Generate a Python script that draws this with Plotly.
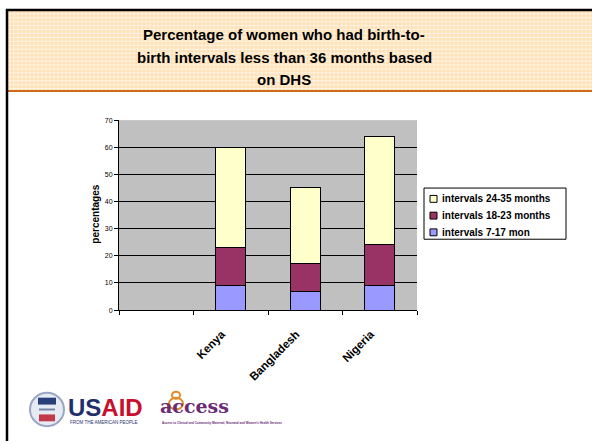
import plotly.graph_objects as go

W, H = 592, 444

categories = [" ", "Kenya", "Bangladesh", "Nigeria"]
series_names = ["intervals 7-17 mon", "intervals 18-23 months", "intervals 24-35 months"]
interval_7_17 = [None, 9, 7, 9]
interval_18_23 = [None, 14, 10, 15]
interval_24_35 = [None, 37, 28, 40]
y_ticks = [0, 10, 20, 30, 40, 50, 60, 70]
title_lines = ["Percentage of women who had birth-to-",
               "birth intervals less than 36 months based",
               "on DHS"]

colors = ["#9999FF", "#993366", "#FFFFCC"]
FONT = "Liberation Sans, Arial, sans-serif"

def px(x):
    return x / W

def py(y):
    return 1 - y / H

fig = go.Figure()
for name, vals, col in zip(series_names, [interval_7_17, interval_18_23, interval_24_35], colors):
    fig.add_trace(go.Bar(
        x=categories, y=vals, name=name, width=0.4, showlegend=False,
        marker=dict(color=col, line=dict(color="#000000", width=1)),
    ))

shapes = []
annotations = []
# header band
shapes.append(dict(type="rect", xref="paper", yref="paper",
                   x0=px(7), x1=px(592), y0=py(88), y1=py(6),
                   fillcolor="#FFE0B4", line=dict(width=0), layer="below"))
for xx in range(10, 592, 4):
    shapes.append(dict(type="line", xref="paper", yref="paper",
                       x0=px(xx), x1=px(xx), y0=py(88), y1=py(7),
                       line=dict(color="rgba(255,255,255,0.6)", width=1), layer="below"))
for yy in range(10, 88, 4):
    shapes.append(dict(type="line", xref="paper", yref="paper",
                       x0=px(7), x1=px(592), y0=py(yy), y1=py(yy),
                       line=dict(color="rgba(255,255,255,0.6)", width=1), layer="below"))
shapes.append(dict(type="line", xref="paper", yref="paper",
                   x0=px(8), x1=px(592), y0=py(88.5), y1=py(88.5),
                   line=dict(color="#CC6A1A", width=2)))
# frame lines
shapes.append(dict(type="line", xref="paper", yref="paper",
                   x0=px(6), x1=px(592), y0=py(6), y1=py(6),
                   line=dict(color="#000000", width=2.5)))
shapes.append(dict(type="line", xref="paper", yref="paper",
                   x0=px(7), x1=px(7), y0=py(5), y1=py(444),
                   line=dict(color="#000000", width=2.5)))

# legend (drawn box, entries in reverse stacking order)
LX0, LX1, LY0, LY1 = 424, 566, 187, 239
shapes.append(dict(type="rect", xref="paper", yref="paper",
                   x0=px(LX0), x1=px(LX1), y0=py(LY1), y1=py(LY0),
                   fillcolor="#FFFFFF", line=dict(color="#000000", width=1)))
for i, (name, col) in enumerate(reversed(list(zip(series_names, colors)))):
    yc = 198 + 17 * i
    shapes.append(dict(type="rect", xref="paper", yref="paper",
                       x0=px(430), x1=px(437), y0=py(yc + 3.5), y1=py(yc - 3.5),
                       fillcolor=col, line=dict(color="#000000", width=1)))
    annotations.append(dict(text="<b>%s</b>" % name, xref="paper", yref="paper",
                            x=px(439.5), y=py(yc), showarrow=False,
                            xanchor="left", yanchor="middle",
                            font=dict(family=FONT, size=10, color="#000000")))

# USAID seal
shapes.append(dict(type="circle", xref="paper", yref="paper",
                   x0=px(30), x1=px(64), y0=py(429), y1=py(395),
                   fillcolor="#E6EAF2", line=dict(color="#9AA6C4", width=2)))
shapes.append(dict(type="rect", xref="paper", yref="paper",
                   x0=px(38), x1=px(56), y0=py(407), y1=py(400),
                   fillcolor="#2A3F7A", line=dict(width=0)))
shapes.append(dict(type="rect", xref="paper", yref="paper",
                   x0=px(39), x1=px(55), y0=py(424), y1=py(417),
                   fillcolor="#C23A4A", line=dict(width=0)))
shapes.append(dict(type="line", xref="paper", yref="paper",
                   x0=px(39), x1=px(55), y0=py(412), y1=py(412),
                   line=dict(color="#7A86A8", width=2)))
# access logo figure
shapes.append(dict(type="circle", xref="paper", yref="paper",
                   x0=px(172), x1=px(180), y0=py(401), y1=py(394),
                   fillcolor="rgba(0,0,0,0)", line=dict(color="#E08A2A", width=2)))
shapes.append(dict(type="circle", xref="paper", yref="paper",
                   x0=px(169), x1=px(183), y0=py(412), y1=py(400),
                   fillcolor="rgba(0,0,0,0)", line=dict(color="#E08A2A", width=2)))

for i, line in enumerate(title_lines):
    annotations.append(dict(text="<b>%s</b>" % line, xref="paper", yref="paper",
                            x=px(284), y=py(31 + 23 * i), showarrow=False,
                            xanchor="center", yanchor="middle",
                            font=dict(family=FONT, size=15, color="#000000")))
annotations.append(dict(text="<b>percentages</b>", xref="paper", yref="paper",
                        x=px(96), y=py(214), textangle=-90, showarrow=False,
                        xanchor="center", yanchor="middle",
                        font=dict(family=FONT, size=10, color="#000000")))
annotations.append(dict(text="<b><span style='color:#1F2F6B'>US</span><span style='color:#C8102E'>AID</span></b>",
                        xref="paper", yref="paper", x=px(66), y=py(410), showarrow=False,
                        xanchor="left", yanchor="middle",
                        font=dict(family=FONT, size=24, color="#1F2F6B")))
annotations.append(dict(text="FROM THE AMERICAN PEOPLE", xref="paper", yref="paper",
                        x=px(68), y=py(425), showarrow=False, xanchor="left", yanchor="middle",
                        font=dict(family=FONT, size=4.5, color="#1F2F6B")))
annotations.append(dict(text="<b>access</b>", xref="paper", yref="paper",
                        x=px(158), y=py(408), showarrow=False, xanchor="left", yanchor="middle",
                        font=dict(family="DejaVu Serif, serif", size=19, color="#6A2C77")))
annotations.append(dict(text="<b>Access to Clinical and Community Maternal, Neonatal and Women's Health Services</b>",
                        xref="paper", yref="paper", x=px(160), y=py(426), showarrow=False,
                        xanchor="left", yanchor="middle",
                        font=dict(family=FONT, size=3, color="#6A2C77")))

fig.update_layout(
    width=W, height=H,
    margin=dict(l=0, r=0, t=0, b=0),
    paper_bgcolor="#FFFFFF",
    plot_bgcolor="#C0C0C0",
    barmode="stack",
    bargap=0.6,
    showlegend=False,
    xaxis=dict(domain=[px(119), px(417)], type="category",
               categoryorder="array", categoryarray=categories,
               range=[-0.5, 3.5],
               tickson="boundaries", ticks="outside", ticklen=4, tickcolor="#000000",
               tickangle=-45, ticklabelstandoff=12, ticklabelshift=-9,
               showgrid=False, showline=True, linecolor="#000000", linewidth=1,
               tickfont=dict(family=FONT, size=11.5, color="#000000"),
               tickprefix="<b>", ticksuffix="</b>"),
    yaxis=dict(domain=[py(311), py(118)], range=[0, 70], tickvals=y_ticks,
               ticks="outside", ticklen=4, tickcolor="#000000",
               showgrid=True, gridcolor="#000000", gridwidth=1,
               showline=True, linecolor="#000000", linewidth=1,
               zeroline=False,
               tickfont=dict(family=FONT, size=7, color="#000000")),
    shapes=shapes,
    annotations=annotations,
)

fig.write_html("out.html", config={"displayModeBar": False},
               post_script="document.body.style.margin='0';")
